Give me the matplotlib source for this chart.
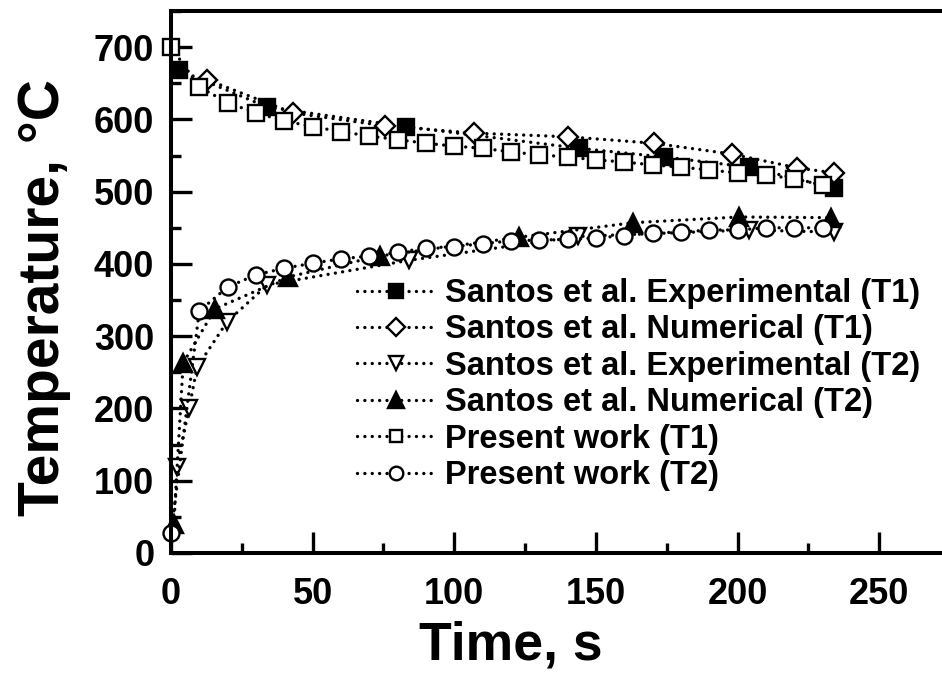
import matplotlib
matplotlib.use("Agg")
import matplotlib.pyplot as plt
from matplotlib.ticker import MultipleLocator

plt.rcParams['font.family'] = ['Liberation Sans', 'DejaVu Sans']
plt.rcParams['font.weight'] = 'bold'

# Santos et al. Experimental (T1)
exp_t1_t = [3, 34, 83, 144, 174, 204, 234]
exp_t1_T = [668, 617, 590, 560, 548, 534, 505]
# Santos et al. Numerical (T1)
num_t1_t = [12.7, 43, 75.7, 107, 140, 170.5, 198, 221, 234]
num_t1_T = [655, 609, 591, 581, 576, 567, 552, 533, 526]
# Santos et al. Experimental (T2)
exp_t2_t = [2, 6.4, 9.2, 19.8, 34, 84, 143.7, 204, 234]
exp_t2_T = [119, 200, 257, 320, 371, 405, 438, 447, 444]
# Santos et al. Numerical (T2)
num_t2_t = [1, 4.3, 15.6, 41.4, 73.6, 122.8, 163, 200.6, 233]
num_t2_T = [40, 263, 338, 382, 411, 437, 457, 465, 464]
# Present work (T1)
pw_t1_t = [0, 10, 20, 30, 40, 50, 60, 70, 80, 90, 100, 110, 120, 130, 140, 150,
           160, 170, 180, 190, 200, 210, 220, 230]
pw_t1_T = [700, 645, 623, 609, 598, 590, 583, 577, 572, 567, 563, 560, 555, 551,
           548, 544, 541, 537, 534, 530, 526, 523, 518, 509]
# Present work (T2)
pw_t2_t = [0, 10, 20, 30, 40, 50, 60, 70, 80, 90, 100, 110, 120, 130, 140, 150,
           160, 170, 180, 190, 200, 210, 220, 230]
pw_t2_T = [28, 335, 368, 385, 394, 401, 407, 411, 416, 422, 424, 428, 432, 433,
           434, 436, 439, 443, 444, 447, 447, 450, 450, 450]

labels = ["Santos et al. Experimental (T1)", "Santos et al. Numerical (T1)",
          "Santos et al. Experimental (T2)", "Santos et al. Numerical (T2)",
          "Present work (T1)", "Present work (T2)"]

W, H = 942, 673
fig = plt.figure(figsize=(W / 100, H / 100), dpi=100)
ax = fig.add_axes([171 / W, 1 - 553 / H, (W - 171) / W + 0.002, (553 - 11) / H])

ls = (0, (0.01, 2.2))
lw = 2.4
mew = 1.7
common = dict(color='black', linestyle=ls, linewidth=lw, markeredgewidth=mew,
              markeredgecolor='black', dash_capstyle='round')

series = [
    (exp_t1_t, exp_t1_T, 's', 'black', 12),
    (num_t1_t, num_t1_T, 'D', 'white', 10.5),
    (exp_t2_t, exp_t2_T, 'v', 'white', 12),
    (num_t2_t, num_t2_T, '^', 'black', 13),
    (pw_t1_t, pw_t1_T, 's', 'white', 11),
    (pw_t2_t, pw_t2_T, 'o', 'white', 11.5),
]
for (t, T, m, fc, ms), lab in zip(series, labels):
    ax.plot(t, T, marker=m, markerfacecolor=fc, markersize=ms, label=lab,
            clip_on=False, **common)

ax.set_xlim(0, (W - 171) / 2.826)
ax.set_ylim(0, 750)
ax.xaxis.set_major_locator(MultipleLocator(50))
ax.xaxis.set_minor_locator(MultipleLocator(25))
ax.yaxis.set_major_locator(MultipleLocator(100))
ax.yaxis.set_minor_locator(MultipleLocator(50))
ax.set_yticks(range(0, 701, 100))
ax.tick_params(which='both', direction='in', width=2.4, top=False, right=False)
ax.tick_params(which='major', length=15, labelsize=26)
ax.tick_params(axis='x', which='major', pad=17)
ax.tick_params(axis='y', which='major', pad=12)
ax.tick_params(which='minor', length=7)
for s in ['left', 'bottom', 'top']:
    ax.spines[s].set_linewidth(2.9)
ax.spines['right'].set_visible(False)

ax.set_xlabel("Time, s", fontsize=38.5, fontweight='bold')
ax.set_ylabel("Temperature, °C", fontsize=41, fontweight='bold')
ax.xaxis.set_label_coords((510 - 171) / (W - 171), (553 - 645) / 542)
ax.xaxis.label.set_va('center')
ax.yaxis.set_label_coords((44 - 171) / (W - 171), (553 - 298) / 542)
ax.yaxis.label.set_va('center')

leg = ax.legend(loc='upper left', bbox_to_anchor=(357 / W, 1 - 278 / H),
                bbox_transform=fig.transFigure, frameon=False, borderpad=0,
                borderaxespad=0, handlelength=2.4, handletextpad=0.3,
                labelspacing=0.165, markerscale=0.85,
                prop={'size': 23.5, 'weight': 'bold'})

fig.savefig("out.png", dpi=100)
